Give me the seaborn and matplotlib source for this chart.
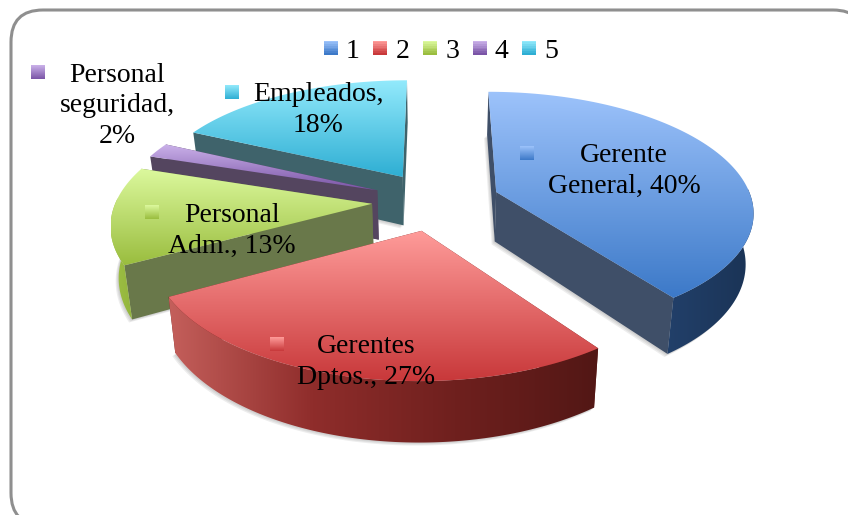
"""Exploded 3D-look pie of staff shares, drawn with a small projection helper."""
import numpy as np
import seaborn as sns
import matplotlib
matplotlib.use("Agg")
import matplotlib.pyplot as plt
from matplotlib.legend_handler import HandlerBase
from matplotlib.patches import FancyBboxPatch, Patch, Polygon, Rectangle

# chart data
names = ["Gerente\nGeneral,", "Gerentes\nDptos.,", "Personal\nAdm.,", "Personal\nseguridad,", "Empleados,"]
shares = [40, 27, 13, 2, 18]
legend_labels = ["1", "2", "3", "4", "5"]
value_breaks = [" ", " ", " ", "\n", "\n"]

# colours per slice
top_stops = [
    ["#9dc3fb", "#3c79c8"],
    ["#ff9c9a", "#c8383a"],
    ["#dcf99e", "#9abd3e"],
    ["#cbb2ea", "#7a54a6"],
    ["#93eafc", "#2eaed3"],
]
side_colors = ["#3f4f68", "#6e2320", "#69784a", "#54455f", "#3f636b"]
arc_stops = [
    ["#22406a", "#1a3355"],
    ["#c45f5b", "#8f2d2b", "#6f201e", "#521715"],
    ["#9fc046", "#93b53c"],
    ["#5e4a78", "#54455f"],
    ["#3f636b", "#3f636b"],
]

# where the labels and their keys go, in pixels
label_xy = [(624, 171), (366, 362), (232, 231), (117, 106), (318, 110)]
key_xy = [(520, 146), (270, 337), (145, 205), (31, 65), (225, 85)]
draw_order = [4, 3, 2, 0, 1]

# projection of the pie plane onto the picture
CX, CY = 436, 201
RADIUS, SQUASH = 256, 0.46
PERSPECTIVE = 0.15
DEPTH = 50
EXPLODE = 0.25
FONT = "Liberation Serif"


def project(u, v, z=0.0):
    """Plane point (u, v) at depth fraction z to picture x, y."""
    s = 1 / (1 + PERSPECTIVE * v)
    x = CX + RADIUS * u * s * (1 - 0.025 * z)
    y = CY - RADIUS * SQUASH * v * s + DEPTH * z * s
    return np.column_stack([x, y])


def gradient_fill(ax, pts, cmap, zorder, horizontal=False):
    """Fill a polygon with a gradient across its own extent."""
    x0, x1 = pts[:, 0].min(), pts[:, 0].max()
    y0, y1 = pts[:, 1].min(), pts[:, 1].max()
    ramp = np.linspace(0, 1, 256)
    ramp = ramp[None, :] if horizontal else ramp[:, None]
    im = ax.imshow(ramp, cmap=cmap, extent=(x0, x1, y1, y0), aspect="auto", zorder=zorder)
    clip = Polygon(pts, closed=True, transform=ax.transData)
    im.set_clip_path(clip)


class GradientKey(HandlerBase):
    def create_artists(self, legend, orig_handle, xdescent, ydescent, width, height, fontsize, trans):
        stops = orig_handle.get_gid()
        side = 14 / 100 * 72
        strips = []
        for i in range(8):
            r = Rectangle((-xdescent, -ydescent + height / 2 + side / 2 - (i + 1) * side / 8),
                          side, side / 8 + 0.2, fc=sns.blend_palette(stops, 8)[i], ec="none", transform=trans)
            strips.append(r)
        return strips


sns.set_theme(style="white")
plt.rcParams["font.family"] = [FONT, "DejaVu Serif"]

fig = plt.figure(figsize=(8.48, 5.15), dpi=100)
ax = fig.add_axes([0, 0, 1, 1])

total = sum(shares)
ends = np.cumsum(shares) / total * 2 * np.pi
starts = np.concatenate([[0], ends[:-1]])

ax.add_patch(FancyBboxPatch((41, 40), 794, 455, boxstyle="round,pad=30,rounding_size=32",
                            fc="white", ec="#8f8f8f", lw=2.2, zorder=0.5))

z = 1
for idx in draw_order:
    mid = (starts[idx] + ends[idx]) / 2
    ou, ov = EXPLODE * np.sin(mid), EXPLODE * np.cos(mid)
    th = np.linspace(starts[idx], ends[idx], 120)
    arc_u, arc_v = ou + np.sin(th), ov + np.cos(th)
    outline_u = np.concatenate([[ou], arc_u])
    outline_v = np.concatenate([[ov], arc_v])

    # soft shadow under the slice
    low = project(outline_u, outline_v, 1.0)
    for off in (3, 2, 1):
        ax.add_patch(Polygon(low + [-off, off], closed=True, fc="#808080", ec="none", alpha=0.14, zorder=z))
    z += 1

    # the two cut walls
    for end_th in (starts[idx], ends[idx]):
        eu, ev = ou + np.sin(end_th), ov + np.cos(end_th)
        wall = np.vstack([project(np.array([ou, eu]), np.array([ov, ev])),
                          project(np.array([eu, ou]), np.array([ev, ov]), 1.0)])
        ax.add_patch(Polygon(wall, closed=True, fc=side_colors[idx], ec="none", zorder=z))
        z += 1

    # outer wall, only the part that faces the viewer
    front = np.cos(th) < 0.05
    if front.any():
        outer = np.vstack([project(arc_u[front], arc_v[front]),
                           project(arc_u[front][::-1], arc_v[front][::-1], 1.0)])
        gradient_fill(ax, outer, sns.blend_palette(arc_stops[idx], as_cmap=True), z, horizontal=True)
        z += 1

    # top face
    top = project(outline_u, outline_v)
    gradient_fill(ax, top, sns.blend_palette(top_stops[idx], as_cmap=True), z)
    z += 1

ax.set_xlim(0, 848)
ax.set_ylim(515, 0)
ax.axis("off")

# data labels with their little keys
for idx, name in enumerate(names):
    kx, ky = key_xy[idx]
    key = np.array([[kx, ky], [kx + 14, ky], [kx + 14, ky + 14], [kx, ky + 14]], dtype=float)
    gradient_fill(ax, key, sns.blend_palette(top_stops[idx], as_cmap=True), z)
    ax.text(*label_xy[idx], f"{name}{value_breaks[idx]}{shares[idx]}%", ha="center", va="center",
            color="black", fontsize=20, linespacing=1.3, zorder=z + 1)

handles = [Patch(gid=top_stops[i]) for i in range(len(legend_labels))]
ax.legend(handles, legend_labels, handler_map={Patch: GradientKey()}, loc="center",
          bbox_to_anchor=(441, 51), bbox_transform=ax.transData, ncol=5, frameon=False,
          fontsize=20, handlelength=0.5, handletextpad=0.29, columnspacing=0.5, labelcolor="black")

ax.set_xlim(0, 848)
ax.set_ylim(515, 0)
fig.savefig("out.png", dpi=100)
plt.close(fig)
